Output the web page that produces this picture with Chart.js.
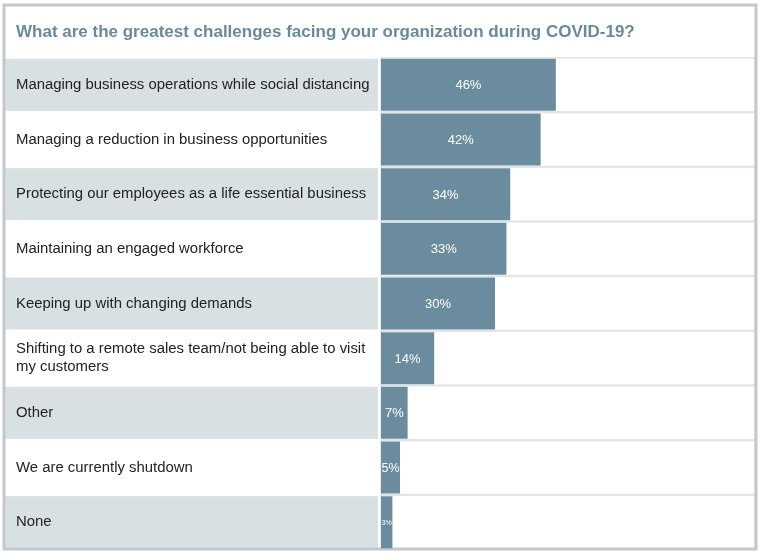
<!DOCTYPE html>
<html>
<head>
<meta charset="utf-8">
<script src="https://cdn.jsdelivr.net/npm/chart.js@4"></script>
<style>
  html, body { margin: 0; padding: 0; background: #fff; }
  #wrap { width: 764px; height: 559px; }
</style>
</head>
<body>
<div id="wrap"><canvas id="challengeChart"></canvas></div>
<script>
const title = 'What are the greatest challenges facing your organization during COVID-19?';
const challenges = [
    'Managing business operations while social distancing',
    'Managing a reduction in business opportunities',
    'Protecting our employees as a life essential business',
    'Maintaining an engaged workforce',
    'Keeping up with changing demands',
    ['Shifting to a remote sales team/not being able to visit', 'my customers'],
    'Other',
    'We are currently shutdown',
    'None'
];
const shares = [46, 42, 34, 33, 30, 14, 7, 5, 3];

const barColor = '#6b8c9e';
const rowGray = '#d9e0e4';
const cellLine = '#dfe5e9';
const frameColor = '#c3c8cd';
const fontFamily = '"Liberation Sans", Arial, Helvetica, sans-serif';

// frame, title, row backgrounds and cell outlines
const tablePlugin = {
    id: 'table',
    beforeDraw(chart) {
        const ctx = chart.ctx;
        const area = chart.chartArea;
        const y = chart.scales.y;
        const band = (area.bottom - area.top) / challenges.length;
        const barH = band * 0.952;
        ctx.save();
        ctx.fillStyle = '#fff';
        ctx.fillRect(0, 0, chart.width, chart.height);

        challenges.forEach((c, i) => {
            const cy = y.getPixelForValue(i);
            if (i % 2 === 0) {
                ctx.fillStyle = rowGray;
                ctx.fillRect(5, cy - barH / 2, 373, barH);
            }
            ctx.strokeStyle = cellLine;
            ctx.lineWidth = 1.5;
            ctx.strokeRect(area.left, cy - barH / 2 - 1, area.right - area.left, barH + 2);
        });

        ctx.strokeStyle = frameColor;
        ctx.lineWidth = 3;
        ctx.strokeRect(4, 5, 752, 544);

        ctx.fillStyle = '#6a8a9c';
        ctx.font = 'bold 17px ' + fontFamily;
        ctx.textBaseline = 'middle';
        ctx.textAlign = 'left';
        ctx.fillText(title, 16, 32);
        ctx.restore();
    },
    afterDatasetsDraw(chart) {
        const ctx = chart.ctx;
        const meta = chart.getDatasetMeta(0);
        ctx.save();
        ctx.fillStyle = '#fff';
        ctx.textAlign = 'center';
        ctx.textBaseline = 'middle';
        meta.data.forEach((bar, i) => {
            const txt = shares[i] + '%';
            const w = bar.x - bar.base;
            ctx.font = '13px ' + fontFamily;
            const tw = ctx.measureText(txt).width;
            let size = 13;
            if (tw > w - 1) size = Math.max(6, 13 * (w - 1) / tw);
            ctx.font = size + 'px ' + fontFamily;
            ctx.fillText(txt, (bar.x + bar.base) / 2, bar.y + 1);
        });
        ctx.restore();
    }
};

new Chart(document.getElementById('challengeChart'), {
    type: 'bar',
    data: {
        labels: challenges,
        datasets: [{
            data: shares,
            backgroundColor: barColor,
            borderWidth: 0,
            barPercentage: 0.952,
            categoryPercentage: 1
        }]
    },
    options: {
        indexAxis: 'y',
        responsive: true,
        maintainAspectRatio: false,
        animation: false,
        layout: { padding: { left: 16, right: 9, top: 57.5, bottom: 9.5 } },
        plugins: {
            legend: { display: false },
            tooltip: { enabled: false },
            title: { display: false }
        },
        scales: {
            x: {
                display: false,
                min: 0,
                max: 98.4
            },
            y: {
                afterFit(scale) { scale.width = 365; },
                grid: { display: false },
                border: { display: false },
                ticks: {
                    crossAlign: 'far',
                    color: '#222',
                    padding: 0,
                    font: { family: fontFamily, size: 14.9, lineHeight: 1.18 }
                }
            }
        }
    },
    plugins: [tablePlugin]
});
</script>
</body>
</html>
